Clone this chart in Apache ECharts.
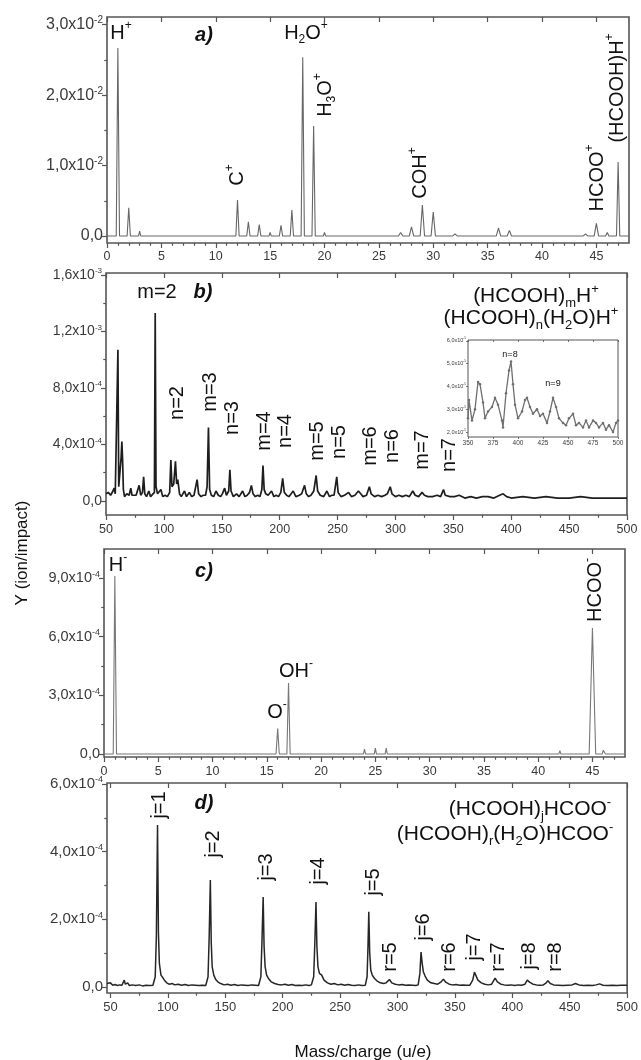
<!DOCTYPE html>
<html>
<head>
<meta charset="utf-8">
<script src="https://cdn.jsdelivr.net/npm/echarts@6/dist/echarts.min.js"></script>
<style>
  html, body { margin: 0; padding: 0; background: #fff; }
  #c { width: 641px; height: 1060px; }
</style>
</head>
<body>
<div id="c"></div>
<script>
// Ion yields of formic acid fragments and clusters, four stacked mass spectra.

// ---------- a) positive ions, m/z 0-48 ----------
const mzA = [0, 0.85, 1, 1.15, 1.85, 2, 2.15, 2.9, 3, 3.1,
  11.85, 12, 12.15, 12.85, 13, 13.15, 13.85, 14, 14.15, 14.9, 15, 15.1,
  15.85, 16, 16.15, 16.85, 17, 17.15, 17.85, 18, 18.15, 18.85, 19, 19.15, 19.9, 20, 20.1,
  26.8, 27, 27.2, 27.8, 28, 28.2, 28.8, 29, 29.2, 29.8, 30, 30.2, 31.8, 32, 32.2,
  35.8, 36, 36.2, 36.8, 37, 37.2, 43.8, 44, 44.2, 44.8, 45, 45.2, 45.85, 46, 46.15,
  46.85, 47, 47.15, 48];
const yA = [0, 0, 2.67e-2, 0, 0, 0.40e-2, 0, 0, 0.07e-2, 0,
  0, 0.51e-2, 0, 0, 0.20e-2, 0, 0, 0.16e-2, 0, 0, 0.05e-2, 0,
  0, 0.15e-2, 0, 0, 0.37e-2, 0, 0, 2.54e-2, 0, 0, 1.56e-2, 0, 0, 0.05e-2, 0,
  0, 0.05e-2, 0, 0, 0.13e-2, 0, 0, 0.44e-2, 0, 0, 0.34e-2, 0, 0, 0.03e-2, 0,
  0, 0.11e-2, 0, 0, 0.08e-2, 0, 0, 0.03e-2, 0, 0, 0.18e-2, 0, 0, 0.05e-2, 0,
  0, 1.05e-2, 0, 0];
const xTicksA = [0, 5, 10, 15, 20, 25, 30, 35, 40, 45];
const yTicksA = [0, 1e-2, 2e-2, 3e-2];
const yTickTextA = [['0,0', ''], ['1,0x10', '-2'], ['2,0x10', '-2'], ['3,0x10', '-2']];

// ---------- b) positive cluster ions, m/z 50-500 ----------
const mzB = [50, 52, 54, 56, 57, 58, 59.5, 60.3, 61, 62, 63, 63.7, 64.3, 65, 66, 68, 70, 71.4, 72.5, 74, 76,
  78.6, 80, 81.5, 82.5, 83.5, 85, 87, 88.5, 90, 91.8, 92.5, 93.2, 94.5, 96, 97.4, 99, 101, 103, 105,
  106, 107, 108.5, 110, 111, 112, 113.5, 115, 117.8, 119.5, 122, 124, 126, 128.7, 130, 132, 134, 136,
  137.3, 138.5, 139.5, 141, 143, 145, 147, 149, 150.5, 152.5, 154, 156, 157, 158, 160, 162.7, 165, 168,
  170, 172, 174, 175.6, 177, 179, 181, 183, 184.6, 185.6, 186.6, 188, 190, 193, 195, 197, 199, 201,
  202.6, 204, 206, 208, 211.7, 214, 217, 219, 221.5, 223, 225, 227, 229.5, 231.5, 232.8, 235, 238,
  240.8, 243, 245, 247, 249.3, 250.5, 253, 256, 259.6, 262, 265, 268, 270, 272, 275, 277.5, 279, 282,
  285, 288, 291, 293, 295.5, 297, 300, 303, 306, 309, 312, 315, 317, 320, 323, 325, 328, 332, 336, 339,
  341.5, 343, 347, 351, 355, 360, 365, 370, 375, 380, 385, 390, 393, 396, 400, 410, 420, 430, 440, 450,
  460, 470, 480, 490, 500];
const yB = [0.05e-3, 0.06e-3, 0.04e-3, 0.07e-3, 0.09e-3, 0.05e-3, 0.06e-3, 1.07e-3, 0.10e-3, 0.20e-3,
  0.30e-3, 0.42e-3, 0.30e-3, 0.08e-3, 0.03e-3, 0.05e-3, 0.04e-3, 0.09e-3, 0.04e-3, 0.05e-3, 0.04e-3,
  0.11e-3, 0.04e-3, 0.06e-3, 0.17e-3, 0.05e-3, 0.03e-3, 0.07e-3, 0.03e-3, 0.04e-3, 0.06e-3, 1.33e-3,
  0.10e-3, 0.05e-3, 0.04e-3, 0.08e-3, 0.03e-3, 0.04e-3, 0.03e-3, 0.06e-3,
  0.29e-3, 0.10e-3, 0.12e-3, 0.28e-3, 0.12e-3, 0.15e-3, 0.05e-3, 0.03e-3, 0.07e-3, 0.03e-3, 0.06e-3,
  0.03e-3, 0.04e-3, 0.15e-3, 0.05e-3, 0.03e-3, 0.04e-3, 0.04e-3,
  0.10e-3, 0.52e-3, 0.08e-3, 0.04e-3, 0.03e-3, 0.07e-3, 0.04e-3, 0.03e-3, 0.05e-3, 0.09e-3, 0.04e-3,
  0.07e-3, 0.22e-3, 0.07e-3, 0.03e-3, 0.05e-3, 0.03e-3, 0.07e-3,
  0.03e-3, 0.04e-3, 0.06e-3, 0.11e-3, 0.05e-3, 0.03e-3, 0.04e-3, 0.03e-3, 0.08e-3, 0.25e-3, 0.08e-3,
  0.05e-3, 0.04e-3, 0.07e-3, 0.03e-3, 0.04e-3, 0.03e-3, 0.06e-3,
  0.16e-3, 0.06e-3, 0.04e-3, 0.03e-3, 0.07e-3, 0.03e-3, 0.04e-3, 0.05e-3, 0.11e-3, 0.05e-3, 0.03e-3,
  0.04e-3, 0.07e-3, 0.18e-3, 0.07e-3, 0.04e-3, 0.03e-3,
  0.07e-3, 0.03e-3, 0.04e-3, 0.04e-3, 0.17e-3, 0.06e-3, 0.03e-3, 0.04e-3, 0.06e-3, 0.03e-3, 0.04e-3,
  0.07e-3, 0.05e-3, 0.03e-3, 0.04e-3, 0.10e-3, 0.05e-3, 0.03e-3,
  0.04e-3, 0.03e-3, 0.04e-3, 0.05e-3, 0.10e-3, 0.05e-3, 0.03e-3, 0.04e-3, 0.03e-3, 0.04e-3, 0.03e-3,
  0.07e-3, 0.04e-3, 0.03e-3, 0.06e-3, 0.04e-3, 0.03e-3, 0.03e-3, 0.04e-3, 0.03e-3,
  0.08e-3, 0.04e-3, 0.03e-3, 0.03e-3, 0.04e-3, 0.02e-3, 0.03e-3, 0.02e-3, 0.03e-3, 0.03e-3, 0.02e-3,
  0.04e-3, 0.05e-3, 0.03e-3, 0.02e-3, 0.03e-3, 0.02e-3, 0.03e-3, 0.02e-3, 0.02e-3,
  0.03e-3, 0.02e-3, 0.02e-3, 0.02e-3, 0.02e-3];
const xTicksB = [50, 100, 150, 200, 250, 300, 350, 400, 450, 500];
const yTicksB = [0, 4e-4, 8e-4, 1.2e-3, 1.6e-3];
const yTickTextB = [['0,0', ''], ['4,0x10', '-4'], ['8,0x10', '-4'], ['1,2x10', '-3'], ['1,6x10', '-3']];

// inset of b): m/z 350-500 enlarged
const mzIn = [350, 351, 354, 357, 360, 362, 365, 367, 370, 374, 377, 380, 384, 385, 388, 391, 393, 395,
  397, 400, 404, 407, 409, 412, 415, 419, 422, 425, 429, 432, 435, 438, 441, 445, 448, 451, 455, 458,
  461, 465, 468, 471, 475, 478, 481, 485, 488, 491, 495, 498, 500];
const yIn = [2.6e-5, 3.4e-5, 2.5e-5, 3.0e-5, 4.2e-5, 4.1e-5, 3.3e-5, 2.6e-5, 2.9e-5, 3.1e-5, 3.5e-5,
  3.2e-5, 2.5e-5, 2.2e-5, 3.7e-5, 4.7e-5, 5.1e-5, 4.1e-5, 3.2e-5, 2.6e-5, 2.9e-5, 3.4e-5, 3.5e-5,
  3.1e-5, 2.8e-5, 3.0e-5, 2.7e-5, 2.8e-5, 2.4e-5, 2.9e-5, 3.5e-5, 3.1e-5, 2.6e-5, 2.4e-5, 2.3e-5,
  2.6e-5, 2.8e-5, 2.3e-5, 2.4e-5, 2.2e-5, 2.5e-5, 2.2e-5, 2.5e-5, 2.4e-5, 2.2e-5, 2.4e-5, 2.1e-5,
  2.3e-5, 2.0e-5, 2.4e-5, 2.5e-5];
const xTicksIn = [350, 375, 400, 425, 450, 475, 500];
const yTicksIn = [2e-5, 3e-5, 4e-5, 5e-5, 6e-5];
const yTickTextIn = [['2,0x10', '-5'], ['3,0x10', '-5'], ['4,0x10', '-5'], ['5,0x10', '-5'], ['6,0x10', '-5']];

// ---------- c) negative ions, m/z 0-48 ----------
const mzC = [0, 0.85, 1, 1.15, 11.9, 12, 12.1, 15.85, 16, 16.15, 16.85, 17, 17.15,
  23.9, 24, 24.1, 24.9, 25, 25.1, 25.9, 26, 26.1, 32.9, 33, 33.1, 41.9, 42, 42.1,
  44.7, 45, 45.3, 45.9, 46, 46.2, 48];
const yC = [0, 0, 9.1e-4, 0, 0, 0.08e-4, 0, 0, 1.3e-4, 0, 0, 3.63e-4, 0,
  0, 0.25e-4, 0, 0, 0.3e-4, 0, 0, 0.3e-4, 0, 0, 0.08e-4, 0, 0, 0.18e-4, 0,
  0, 6.44e-4, 0, 0, 0.2e-4, 0, 0];
const xTicksC = [0, 5, 10, 15, 20, 25, 30, 35, 40, 45];
const yTicksC = [0, 3e-4, 6e-4, 9e-4];
const yTickTextC = [['0,0', ''], ['3,0x10', '-4'], ['6,0x10', '-4'], ['9,0x10', '-4']];

// ---------- d) negative cluster ions, m/z 50-500 ----------
const mzD = [47, 50, 52, 54, 56, 58, 60, 62, 63, 65, 66.5, 69, 72, 75, 78, 81, 84, 87,
  89, 90, 91, 91.8, 92.6, 94, 95.7, 97, 99, 101, 104, 106, 109, 112, 115, 118, 121, 124, 127, 130, 133,
  135, 136, 137, 137.8, 138.6, 140, 141.7, 143.5, 146, 149, 152, 155, 158, 161, 164, 167, 170, 173, 176, 179,
  181, 182, 183, 183.8, 184.7, 186, 187.6, 190, 193, 196, 199, 202, 205, 208, 211, 214, 217, 220, 223, 225,
  227, 228, 229, 229.8, 230.7, 232, 234, 236, 239, 242, 245, 248, 251, 254, 257, 260, 263, 266, 269, 272,
  273.5, 274.3, 275, 275.8, 276.7, 278, 280, 282, 285, 288, 290, 293, 295, 298, 301, 304, 307, 310, 313, 316, 318,
  319.5, 320.5, 321.5, 322.5, 324, 326, 329, 332, 335, 338, 340, 342, 345, 348, 351, 354, 357, 360, 363,
  365.5, 367, 368.5, 370, 373, 376, 379, 382, 385, 387, 390, 393, 396, 399, 402, 405, 408, 411, 413, 415,
  418, 421, 424, 427, 429.5, 431, 433, 436, 440, 444, 448, 452, 455, 458, 462, 466, 470, 473, 476, 479,
  483, 487, 491, 495, 500];
const yD = [0.10e-4, 0.12e-4, 0.05e-4, 0.07e-4, 0.04e-4, 0.06e-4, 0.05e-4, 0.20e-4, 0.08e-4, 0.12e-4, 0.04e-4,
  0.06e-4, 0.04e-4, 0.06e-4, 0.03e-4, 0.05e-4, 0.04e-4, 0.05e-4,
  0.3e-4, 1.5e-4, 4.79e-4, 1.6e-4, 0.7e-4, 0.35e-4, 0.27e-4, 0.2e-4, 0.12e-4, 0.08e-4, 0.1e-4, 0.06e-4,
  0.08e-4, 0.05e-4, 0.07e-4, 0.04e-4, 0.06e-4, 0.05e-4, 0.04e-4, 0.05e-4, 0.04e-4,
  0.3e-4, 1.5e-4, 3.16e-4, 1.3e-4, 0.6e-4, 0.35e-4, 0.22e-4, 0.15e-4, 0.1e-4, 0.06e-4, 0.08e-4, 0.05e-4,
  0.07e-4, 0.04e-4, 0.06e-4, 0.05e-4, 0.04e-4, 0.06e-4, 0.05e-4, 0.04e-4,
  0.3e-4, 1.4e-4, 2.66e-4, 1.2e-4, 0.6e-4, 0.35e-4, 0.25e-4, 0.15e-4, 0.1e-4, 0.07e-4, 0.06e-4, 0.08e-4,
  0.05e-4, 0.07e-4, 0.04e-4, 0.05e-4, 0.04e-4, 0.06e-4, 0.04e-4, 0.06e-4,
  0.3e-4, 1.3e-4, 2.51e-4, 1.2e-4, 0.6e-4, 0.4e-4, 0.35e-4, 0.2e-4, 0.12e-4, 0.08e-4, 0.1e-4, 0.06e-4,
  0.08e-4, 0.05e-4, 0.07e-4, 0.05e-4, 0.04e-4, 0.06e-4, 0.04e-4, 0.05e-4,
  0.3e-4, 1.2e-4, 2.22e-4, 1.0e-4, 0.5e-4, 0.35e-4, 0.25e-4, 0.18e-4, 0.12e-4, 0.1e-4, 0.12e-4, 0.22e-4,
  0.12e-4, 0.08e-4, 0.06e-4, 0.07e-4, 0.05e-4, 0.06e-4, 0.05e-4, 0.04e-4, 0.06e-4,
  0.4e-4, 1.03e-4, 0.7e-4, 0.45e-4, 0.32e-4, 0.2e-4, 0.12e-4, 0.1e-4, 0.08e-4, 0.15e-4, 0.23e-4, 0.14e-4,
  0.08e-4, 0.06e-4, 0.07e-4, 0.05e-4, 0.06e-4, 0.05e-4, 0.05e-4,
  0.2e-4, 0.44e-4, 0.32e-4, 0.2e-4, 0.12e-4, 0.08e-4, 0.06e-4, 0.08e-4, 0.26e-4, 0.15e-4, 0.08e-4, 0.06e-4,
  0.05e-4, 0.06e-4, 0.04e-4, 0.06e-4, 0.05e-4, 0.08e-4, 0.2e-4, 0.14e-4,
  0.08e-4, 0.06e-4, 0.05e-4, 0.06e-4, 0.12e-4, 0.18e-4, 0.1e-4, 0.06e-4, 0.05e-4, 0.04e-4, 0.05e-4, 0.06e-4,
  0.1e-4, 0.06e-4, 0.04e-4, 0.05e-4, 0.04e-4, 0.06e-4, 0.09e-4, 0.05e-4,
  0.04e-4, 0.05e-4, 0.04e-4, 0.05e-4, 0.05e-4];
const xTicksD = [50, 100, 150, 200, 250, 300, 350, 400, 450, 500];
const yTicksD = [0, 2e-4, 4e-4, 6e-4];
const yTickTextD = [['0,0', ''], ['2,0x10', '-4'], ['4,0x10', '-4'], ['6,0x10', '-4']];

// ---------- drawing ----------
const FONT = '"Liberation Sans", Arial, Helvetica, sans-serif';
const INK = '#111';
const FRAME = '#555';
const TICK_TXT = '#3a3a3a';

function range(from, to, step, skip) {
  const out = [];
  for (let v = from; v <= to + 1e-9; v += step) {
    if (!skip || Math.abs(v / skip - Math.round(v / skip)) > 1e-6) out.push(v);
  }
  return out;
}
const zip = (xs, ys) => xs.map((x, i) => [x, ys[i]]);

const grids = [], xAxes = [], yAxes = [], series = [];

function addPanel(p) {
  const gi = grids.length;
  grids.push({
    left: p.box[0], top: p.box[1], width: p.box[2], height: p.box[3],
    show: true, borderColor: FRAME, borderWidth: p.border, backgroundColor: 'transparent'
  });
  const xBase = {
    type: 'value', gridIndex: gi, min: p.xMin, max: p.xMax,
    splitLine: { show: false }, axisLine: { show: false, onZero: false }
  };
  const yBase = {
    type: 'value', gridIndex: gi, min: p.yMin, max: p.yMax,
    splitLine: { show: false }, axisLine: { show: false, onZero: false }
  };
  const tickStyle = { color: FRAME, width: p.tickW };
  const xi = xAxes.length;
  xAxes.push(Object.assign({}, xBase, {
    position: 'bottom',
    axisTick: { show: true, customValues: p.xTicks, length: p.tick, lineStyle: tickStyle },
    axisLabel: {
      show: true, customValues: p.xTicks, fontSize: p.xFont, color: TICK_TXT,
      fontFamily: FONT, margin: p.xMargin
    }
  }));
  if (p.xMinor) {
    xAxes.push(Object.assign({}, xBase, {
      position: 'bottom',
      axisTick: { show: true, customValues: p.xMinor, length: p.tick * 0.55, lineStyle: tickStyle },
      axisLabel: { show: false }
    }));
  }
  if (p.topTicks) {
    xAxes.push(Object.assign({}, xBase, {
      position: 'top',
      axisTick: { show: true, inside: true, customValues: p.xTicks, length: p.tick, lineStyle: tickStyle },
      axisLabel: { show: false }
    }));
  }
  const yi = yAxes.length;
  const ticks = p.yTicks, texts = p.yText;
  yAxes.push(Object.assign({}, yBase, {
    position: 'left',
    axisTick: { show: true, customValues: ticks, length: p.tick, lineStyle: tickStyle },
    axisLabel: {
      show: true, customValues: ticks, margin: p.yMargin,
      formatter: function (v) {
        let k = 0;
        for (let i = 0; i < ticks.length; i++) {
          if (Math.abs(ticks[i] - v) < Math.abs(ticks[k] - v)) k = i;
        }
        const t = texts[k];
        return t[1] ? '{m|' + t[0] + '}{s|' + t[1] + '}' : '{m|' + t[0] + '}';
      },
      rich: {
        m: { fontSize: p.yFont, fontFamily: FONT, color: TICK_TXT, lineHeight: p.yFont + 2 },
        s: { fontSize: Math.round(p.yFont * 0.6), fontFamily: FONT, color: TICK_TXT,
             verticalAlign: 'top', lineHeight: Math.round(p.yFont * 0.6) }
      }
    }
  }));
  if (p.yMinor) {
    yAxes.push(Object.assign({}, yBase, {
      position: 'left',
      axisTick: { show: true, customValues: p.yMinor, length: p.tick * 0.55, lineStyle: tickStyle },
      axisLabel: { show: false }
    }));
  }
  series.push({
    type: 'line', xAxisIndex: xi, yAxisIndex: yi, data: zip(p.xs, p.ys),
    showSymbol: !!p.symbol, symbol: 'circle', symbolSize: p.symbol || 0,
    itemStyle: { color: p.color },
    lineStyle: { color: p.color, width: p.width }, silent: true, clip: true, z: 3
  });
}

addPanel({
  box: [107, 17, 522, 226], border: 1.6, tick: 5, tickW: 1.2,
  xMin: 0, xMax: 48, xTicks: xTicksA, xMinor: range(1, 47, 1, 5), topTicks: true,
  yMin: -1.0e-3, yMax: 3.11e-2, yTicks: yTicksA, yText: yTickTextA, yMinor: [0.5e-2, 1.5e-2, 2.5e-2],
  xFont: 12.5, xMargin: 7, yFont: 16, yMargin: 4,
  xs: mzA, ys: yA, color: '#666', width: 1.1
});
addPanel({
  box: [106, 273, 521, 242], border: 1.6, tick: 5, tickW: 1.2,
  xMin: 50, xMax: 500, xTicks: xTicksB, xMinor: range(75, 475, 50), topTicks: true,
  yMin: -1.0e-4, yMax: 1.614e-3, yTicks: yTicksB, yText: yTickTextB, yMinor: [2e-4, 6e-4, 1.0e-3, 1.4e-3],
  xFont: 12.5, xMargin: 8, yFont: 14, yMargin: 4,
  xs: mzB, ys: yB, color: '#1e1e1e', width: 1.7
});
addPanel({
  box: [468, 340, 150, 97], border: 1, tick: 2, tickW: 0.8,
  xMin: 350, xMax: 500, xTicks: xTicksIn, topTicks: true,
  yMin: 1.78e-5, yMax: 6.04e-5, yTicks: yTicksIn, yText: yTickTextIn,
  xFont: 6.5, xMargin: 3, yFont: 5.5, yMargin: 2,
  xs: mzIn, ys: yIn, color: '#6f6f6f', width: 1.3, symbol: 2.5
});
addPanel({
  box: [104, 549, 521, 208], border: 1.6, tick: 5, tickW: 1.2,
  xMin: 0, xMax: 48, xTicks: xTicksC, xMinor: range(1, 47, 1, 5), topTicks: true,
  yMin: -1.5e-5, yMax: 1.048e-3, yTicks: yTicksC, yText: yTickTextC, yMinor: [1.5e-4, 4.5e-4, 7.5e-4],
  xFont: 12.5, xMargin: 8, yFont: 14.5, yMargin: 4,
  xs: mzC, ys: yC, color: '#777', width: 1.1
});
addPanel({
  box: [107, 783, 521, 210], border: 1.6, tick: 5, tickW: 1.2,
  xMin: 47, xMax: 500, xTicks: xTicksD, xMinor: range(75, 475, 50), topTicks: true,
  yMin: -1.8e-5, yMax: 6.03e-4, yTicks: yTicksD, yText: yTickTextD, yMinor: [1e-4, 3e-4, 5e-4],
  xFont: 13, xMargin: 8, yFont: 15, yMargin: 4,
  xs: mzD, ys: yD, color: '#262626', width: 1.5
});

// ---------- text annotations ----------
function richFor(fs) {
  const small = Math.round(fs * 0.6);
  return {
    t: { fontSize: fs, lineHeight: fs + 6, fontFamily: FONT, fill: INK, color: INK },
    b: { fontSize: fs, lineHeight: fs + 6, fontFamily: FONT, fill: INK, color: INK,
         fontWeight: 'bold', fontStyle: 'italic' },
    sup: { fontSize: small, lineHeight: small, verticalAlign: 'top', fontFamily: FONT, fill: INK, color: INK },
    sub: { fontSize: small, lineHeight: small, verticalAlign: 'bottom', fontFamily: FONT, fill: INK, color: INK }
  };
}
function note(x, y, text, opt) {
  opt = opt || {};
  const fs = opt.fs || 20;
  return {
    type: 'text', x: x, y: y, rotation: opt.rot ? Math.PI / 2 : 0, silent: true, z: 100,
    style: {
      text: text, rich: richFor(fs), fontSize: fs, fontFamily: FONT, fill: INK,
      align: opt.align || 'center', verticalAlign: 'middle',
      textAlign: opt.align || 'center', textVerticalAlign: 'middle'
    }
  };
}
const R = { rot: true };
const notes = [
  // a)
  note(121, 33, '{t|H}{sup|+}'),
  note(204, 35, '{b|a)}'),
  note(306, 33, '{t|H}{sub|2}{t|O}{sup|+}'),
  note(325, 95, '{t|H}{sub|3}{t|O}{sup|+}', R),
  note(237, 175, '{t|C}{sup|+}', R),
  note(420, 173, '{t|COH}{sup|+}', R),
  note(597, 178, '{t|HCOO}{sup|+}', R),
  note(617, 88, '{t|(HCOOH)H}{sup|+}', R),
  // b)
  note(157, 292, '{t|m=2}'),
  note(203, 292, '{b|b)}'),
  note(536, 296, '{t|(HCOOH)}{sub|m}{t|H}{sup|+}', { fs: 21 }),
  note(531, 318, '{t|(HCOOH)}{sub|n}{t|(H}{sub|2}{t|O)H}{sup|+}', { fs: 21 }),
  note(177, 403, '{t|n=2}', R),
  note(210, 392, '{t|m=3}', R),
  note(232, 418, '{t|n=3}', R),
  note(264, 431, '{t|m=4}', R),
  note(285, 431, '{t|n=4}', R),
  note(317, 441, '{t|m=5}', R),
  note(339, 442, '{t|n=5}', R),
  note(370, 446, '{t|m=6}', R),
  note(392, 446, '{t|n=6}', R),
  note(422, 450, '{t|m=7}', R),
  note(449, 455, '{t|n=7}', R),
  note(510, 355, '{t|n=8}', { fs: 9 }),
  note(553, 384, '{t|n=9}', { fs: 9 }),
  // c)
  note(118, 565, '{t|H}{sup|-}'),
  note(204, 571, '{b|c)}'),
  note(296, 671, '{t|OH}{sup|-}'),
  note(277, 712, '{t|O}{sup|-}'),
  note(595, 590, '{t|HCOO}{sup|-}', R),
  // d)
  note(159, 805, '{t|j=1}', R),
  note(204, 803, '{b|d)}'),
  note(213, 844, '{t|j=2}', R),
  note(266, 867, '{t|j=3}', R),
  note(318, 871, '{t|j=4}', R),
  note(373, 882, '{t|j=5}', R),
  note(390, 957, '{t|r=5}', R),
  note(423, 927, '{t|j=6}', R),
  note(449, 957, '{t|r=6}', R),
  note(474, 947, '{t|j=7}', R),
  note(498, 957, '{t|r=7}', R),
  note(529, 956, '{t|j=8}', R),
  note(555, 957, '{t|r=8}', R),
  note(530, 809, '{t|(HCOOH)}{sub|j}{t|HCOO}{sup|-}', { fs: 21 }),
  note(505, 834, '{t|(HCOOH)}{sub|r}{t|(H}{sub|2}{t|O)HCOO}{sup|-}', { fs: 21 }),
  // axis titles
  note(22, 553, '{t|Y (ion/impact)}', { rot: true, fs: 17 }),
  note(363, 1052, '{t|Mass/charge (u/e)}', { fs: 17 })
];

const chart = echarts.init(document.getElementById('c'), null, { renderer: 'canvas' });
chart.setOption({
  animation: false,
  backgroundColor: '#fff',
  grid: grids,
  xAxis: xAxes,
  yAxis: yAxes,
  series: series,
  graphic: { elements: notes }
});
</script>
</body>
</html>
